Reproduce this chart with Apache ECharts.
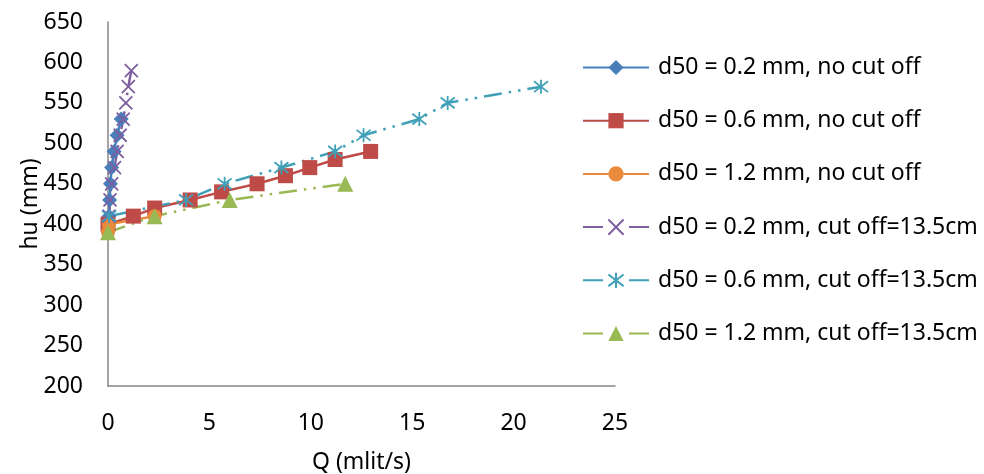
<!DOCTYPE html>
<html>
<head>
<meta charset="utf-8">
<script src="https://cdn.jsdelivr.net/npm/echarts@6/dist/echarts.min.js"></script>
<style>html,body{margin:0;padding:0;background:#fff}#c{width:984px;height:474px}</style>
</head>
<body>
<div id="c"></div>
<script>
// Data
const seriesNames = [
  'd50 = 0.2 mm, no cut off',
  'd50 = 0.6 mm, no cut off',
  'd50 = 1.2 mm, no cut off',
  'd50 = 0.2 mm, cut off=13.5cm',
  'd50 = 0.6 mm, cut off=13.5cm',
  'd50 = 1.2 mm, cut off=13.5cm'
];
const q02 = [0.05, 0.08, 0.12, 0.18, 0.3, 0.45, 0.65];
const hu02 = [410, 430, 450, 470, 490, 510, 530];
const q06 = [0, 1.25, 2.3, 4.05, 5.6, 7.35, 8.75, 9.95, 11.2, 12.95];
const hu06 = [400, 410, 420, 430, 440, 450, 460, 470, 480, 490];
const q12 = [0, 0.05, 2.3];
const hu12 = [390, 400, 410];
const q02c = [0.05, 0.1, 0.18, 0.32, 0.45, 0.6, 0.75, 0.88, 1.0, 1.15];
const hu02c = [410, 430, 450, 470, 490, 510, 530, 550, 570, 590];
const q06c = [0.05, 3.85, 5.75, 8.55, 11.2, 12.6, 15.35, 16.75, 21.35];
const hu06c = [410, 430, 450, 470, 490, 510, 530, 550, 570];
const q12c = [0, 2.3, 6.0, 11.7];
const hu12c = [390, 410, 430, 450];
const xTicks = {min: 0, max: 25, interval: 5};
const yTicks = {min: 200, max: 650, interval: 50};

const pairs = (xs, ys) => xs.map((x, i) => [x, ys[i]]);
const FONT = 'Noto Sans';
const FS = 23;
const dashDot = [18, 7, 2.5, 7, 2.5, 7];
const xPath = 'path://M0,0L10,10M10,0L0,10';
const starPath = 'path://M0,0L10,10M10,0L0,10M5,-1.5L5,11.5';

function mk(name, data, color, symbol, size, dashed, strokeSym) {
  return {
    name, type: 'line', data,
    symbol, symbolSize: size,
    showSymbol: true,
    lineStyle: {color, width: 2.5, type: dashed ? dashDot : 'solid'},
    itemStyle: strokeSym ? {color, borderColor: color, borderWidth: 1.8} : {color},
    emphasis: {disabled: true},
    animation: false
  };
}

const legendData = seriesNames.map((n, i) => i < 3 ? {name: n} : {name: n, lineStyle: {type: [20, 26]}});

const chart = echarts.init(document.getElementById('c'), null, {renderer: 'canvas'});
chart.setOption({
  backgroundColor: '#fff',
  textStyle: {fontFamily: FONT},
  grid: {left: 108, top: 22, right: 369, bottom: 88, containLabel: false, outerBoundsMode: 'none'},
  xAxis: {
    type: 'value', min: xTicks.min, max: xTicks.max, interval: xTicks.interval,
    name: 'Q (mlit/s)', nameLocation: 'middle', nameGap: 65, nameMoveOverlap: false,
    nameTextStyle: {fontSize: FS, color: '#000', fontFamily: FONT},
    axisLine: {show: true, onZero: false, lineStyle: {color: '#868686', width: 1.5}},
    axisTick: {show: false},
    splitLine: {show: false},
    axisLabel: {fontSize: FS, color: '#000', margin: 26, fontFamily: FONT}
  },
  yAxis: {
    type: 'value', min: yTicks.min, max: yTicks.max, interval: yTicks.interval,
    name: 'hu (mm)', nameLocation: 'middle', nameGap: 66, nameRotate: 90, nameMoveOverlap: false,
    nameTextStyle: {fontSize: FS, color: '#000', fontFamily: FONT},
    axisLine: {show: true, onZero: false, lineStyle: {color: '#868686', width: 1.5}},
    axisTick: {show: false},
    splitLine: {show: false},
    axisLabel: {fontSize: FS, color: '#000', margin: 25, fontFamily: FONT}
  },
  legend: {
    orient: 'vertical', left: 582, top: 56, padding: 0,
    itemWidth: 66, itemHeight: 19, itemGap: 30.2,
    textStyle: {fontSize: FS, color: '#000', fontFamily: FONT, padding: [0, 0, 0, 4]},
    data: legendData
  },
  series: [
    mk(seriesNames[0], pairs(q02, hu02), '#4A7EBB', 'diamond', 15, false),
    mk(seriesNames[1], pairs(q06, hu06), '#BE4B48', 'rect', 15, false),
    mk(seriesNames[2], pairs(q12, hu12), '#E98A3C', 'circle', 14, false),
    mk(seriesNames[3], pairs(q02c, hu02c), '#7D5FA0', xPath, 13, true, true),
    mk(seriesNames[4], pairs(q06c, hu06c), '#3FA0B8', starPath, 14, true, true),
    mk(seriesNames[5], pairs(q12c, hu12c), '#98B954', 'triangle', 16, true)
  ]
});
</script>
</body>
</html>
